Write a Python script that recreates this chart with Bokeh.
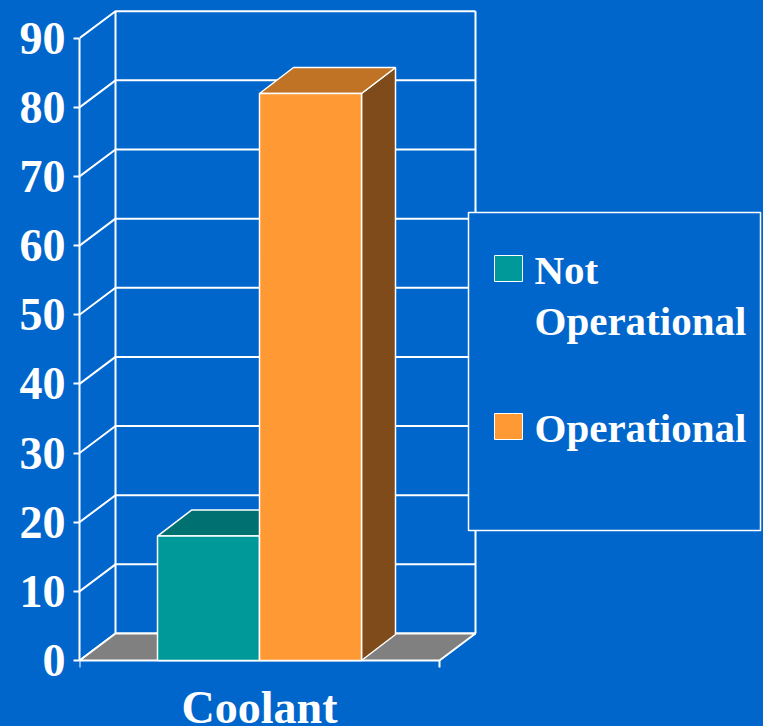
from bokeh.plotting import figure
from bokeh.models import FixedTicker, Range1d, ColumnDataSource
from bokeh.core.properties import value
from bokeh.embed import file_html
from bokeh.resources import INLINE

# ---------------- data ----------------
categories = ["Coolant"]
series = ["Not Operational", "Operational"]
values = [18, 82]
y_ticks = [0, 10, 20, 30, 40, 50, 60, 70, 80, 90]
front_colors = ["#009999", "#FF9933"]
top_colors = ["#007070", "#C07225"]
side_colors = ["#005858", "#7F4B1A"]

# ---------------- style / layout ----------------
BG = "#0066CC"
FONT = "Liberation Serif"
W, H = 763, 726
PPU = 622.3 / 90.0        # pixels per value unit
PPX = 360.0               # pixels per category
ORIG_X, ORIG_Y = 79, 660  # canvas position of (0, 0)
LEFT = ORIG_X             # left border (axis panel) in px


def px_x(px):
    return (px - ORIG_X) / PPX


def px_y(py):
    return (ORIG_Y - py) / PPU


DX, DY = 36 / PPX, 27 / PPU       # wall depth
BDX, BDY = 34 / PPX, 26 / PPU     # bar depth
GAP = 78 / PPX
BW = (1 - 2 * GAP) / len(series)

x_range = Range1d(0, (W - LEFT) / PPX)
y_range = Range1d(-(H - ORIG_Y) / PPU, ORIG_Y / PPU)

p = figure(width=W, height=H, x_range=x_range, y_range=y_range,
           output_backend="svg", toolbar_location=None,
           x_axis_location=None, y_axis_location="left",
           min_border_left=LEFT, min_border_right=0,
           min_border_top=0, min_border_bottom=0)
p.background_fill_color = BG
p.border_fill_color = BG
p.outline_line_color = None
p.grid.visible = False
p.styles = {"background-color": BG}

ymax = y_ticks[-1]
ncat = len(categories)

# back-wall gridlines (left wall diagonal + back wall horizontal)
p.multi_line(xs=[[0, DX, ncat + DX] for _ in y_ticks],
             ys=[[v, v + DY, v + DY] for v in y_ticks],
             line_color="white", line_width=2)
# back wall vertical edges
p.multi_line(xs=[[DX, DX], [ncat + DX, ncat + DX]],
             ys=[[DY, ymax + DY], [DY, ymax + DY]],
             line_color="white", line_width=2)
# floor
p.patch(x=[0, ncat, ncat + DX, DX], y=[0, 0, DY, DY],
        fill_color="#808080", line_color="white", line_width=2)
# floor ticks at category boundaries
p.segment(x0=list(range(ncat + 1)), y0=[0] * (ncat + 1),
          x1=list(range(ncat + 1)), y1=[-7 / PPU] * (ncat + 1),
          line_color="white", line_width=2)

# 3D bars
xs, ys, cols = [], [], []
for c in range(ncat):
    for i, v in enumerate(values):
        x0 = c + GAP + i * BW
        x1 = x0 + BW
        xs.append([x1, x1 + BDX, x1 + BDX, x1]); ys.append([0, BDY, v + BDY, v]); cols.append(side_colors[i])
        xs.append([x0, x1, x1 + BDX, x0 + BDX]); ys.append([v, v, v + BDY, v + BDY]); cols.append(top_colors[i])
        xs.append([x0, x1, x1, x0]); ys.append([0, 0, v, v]); cols.append(front_colors[i])
p.patches(xs="xs", ys="ys", fill_color="c",
          source=ColumnDataSource(dict(xs=xs, ys=ys, c=cols)),
          line_color="white", line_width=1.5)

# category label
p.text(x=[c + 0.5 for c in range(ncat)], y=[px_y(707)] * ncat, text=categories,
       text_align="center", text_baseline="alphabetic", text_color="white",
       text_font=value(FONT), text_font_style="bold", text_font_size="46px")

# y axis
ax = p.yaxis[0]
ax.ticker = FixedTicker(ticks=y_ticks)
ax.bounds = (y_ticks[0], y_ticks[-1])
ax.axis_line_color = "white"
ax.axis_line_width = 2
ax.major_tick_line_color = "white"
ax.major_tick_line_width = 2
ax.major_tick_out = 6
ax.major_tick_in = 0
ax.minor_tick_line_color = None
ax.major_label_standoff = 8
ax.major_label_text_color = "white"
ax.major_label_text_font = FONT
ax.major_label_text_font_style = "bold"
ax.major_label_text_font_size = "46px"

# legend box
p.quad(left=[px_x(468)], right=[px_x(760)], top=[px_y(212)], bottom=[px_y(530)],
       fill_color=BG, line_color="white", line_width=1.5)
STEP = 158
LINE = 51
p.quad(left=[px_x(494)] * len(series), right=[px_x(522)] * len(series),
       top=[px_y(255 + i * STEP) for i in range(len(series))],
       bottom=[px_y(281 + i * STEP) for i in range(len(series))],
       fill_color=front_colors, line_color="white", line_width=1)
lx, ly, lt = [], [], []
for i, s in enumerate(series):
    for j, part in enumerate(s.split(" ")):
        lx.append(px_x(534)); ly.append(px_y(269 + i * STEP + j * LINE)); lt.append(part)
p.text(x=lx, y=ly, text=lt, text_align="left", text_baseline="alphabetic",
       text_color="white", text_font=value(FONT), text_font_style="bold",
       text_font_size="41px")

open("out.html", "w").write(file_html(p, INLINE))
